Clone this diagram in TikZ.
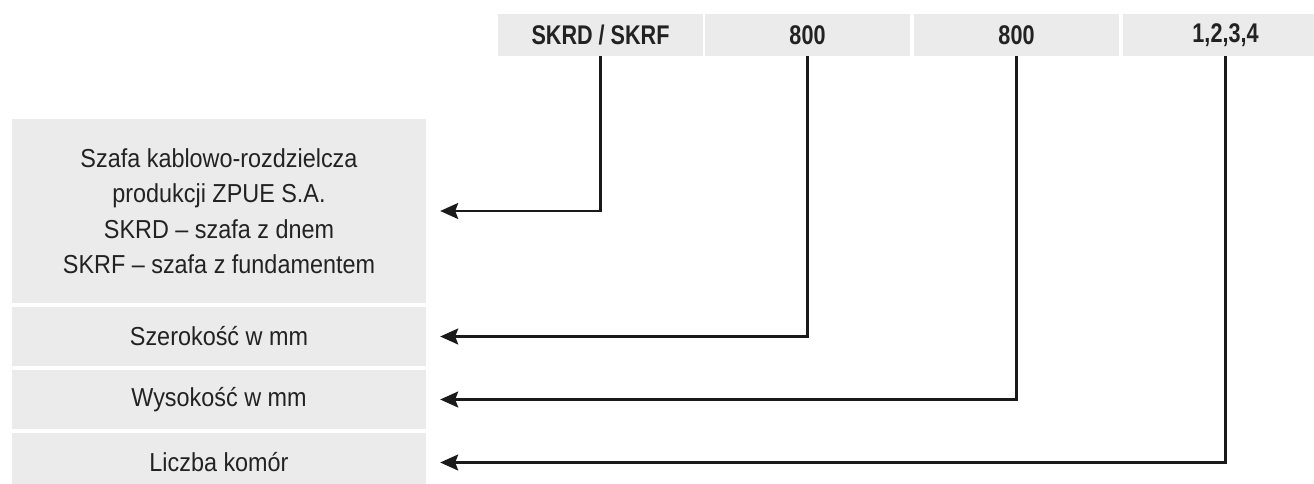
\documentclass[tikz,border=0pt]{standalone}
\usepackage{fontspec}
\setmainfont{Liberation Sans}[FakeStretch=0.9]
\newfontfamily\topfont{Liberation Sans}[FakeStretch=0.8]
\usetikzlibrary{arrows.meta}
\definecolor{boxgray}{HTML}{EBEBEB}
\definecolor{txt}{HTML}{222222}
\definecolor{lin}{HTML}{1A1A1A}
\begin{document}
\begin{tikzpicture}[x=1pt,y=-1pt,
  topbox/.style={fill=boxgray, draw=none, minimum width=205pt, minimum height=42pt, inner sep=0pt,
     text=txt, font=\topfont\fontsize{27}{30}\selectfont\bfseries},
  leftbox/.style={fill=boxgray, draw=none, minimum width=414pt, inner sep=0pt, align=center,
     text=txt, font=\fontsize{26}{35.5}\selectfont},
  conn/.style={draw=lin, line width=2.2pt, -{Stealth[length=18pt,width=16pt,inset=3pt]}}]
\useasboundingbox (0,0) rectangle (1314,484);
% top boxes
\node[topbox] (t1) at (600.5,35) {SKRD / SKRF};
\node[topbox] (t2) at (807.5,35) {800};
\node[topbox] (t3) at (1016.5,35) {800};
\node[topbox] (t4) at (1225.5,35) {1,2,3,4};
% left boxes
\node[leftbox, minimum height=184pt] (l1) at (219,211) {Szafa kablowo-rozdzielcza\\produkcji ZPUE S.A.\\SKRD -- szafa z dnem\\SKRF -- szafa z fundamentem};
\node[leftbox, minimum height=59pt] (l2) at (219,336.5) {Szerokość w mm};
\node[leftbox, minimum height=59pt] (l3) at (219,399.5) {Wysokość w mm};
\node[leftbox, minimum height=59pt] (l4) at (219,462.5) {Liczba komór};
% connectors
\draw[conn] (t1.south) |- ([xshift=14pt]l1.east);
\draw[conn] (t2.south) |- ([xshift=14pt]l2.east);
\draw[conn] (t3.south) |- ([xshift=14pt]l3.east);
\draw[conn] (t4.south) |- ([xshift=14pt]l4.east);
\end{tikzpicture}
\end{document}
